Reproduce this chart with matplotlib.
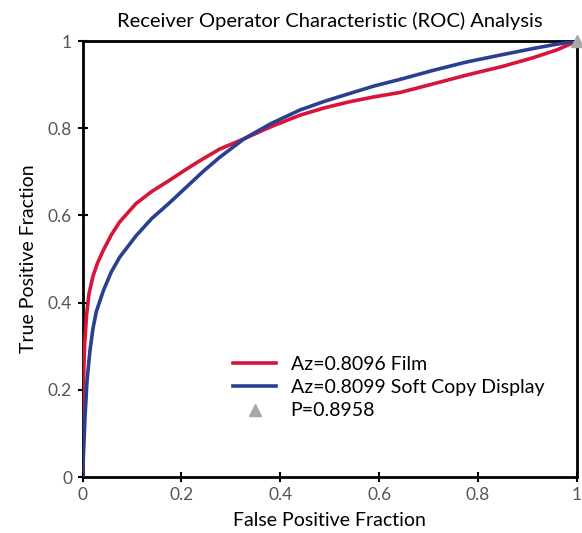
import matplotlib
matplotlib.use("Agg")
import matplotlib.pyplot as plt

plt.rcParams['font.family'] = ['Lato', 'DejaVu Sans']

# values
film_fpf = [0.0, 0.002, 0.004, 0.008, 0.013, 0.021, 0.03, 0.042, 0.058, 0.075,
            0.108, 0.14, 0.175, 0.21, 0.238, 0.277, 0.327, 0.38, 0.44, 0.49,
            0.541, 0.59, 0.642, 0.71, 0.777, 0.85, 0.912, 0.96, 1.0]
film_tpf = [0.0, 0.22, 0.30, 0.37, 0.42, 0.46, 0.49, 0.52, 0.555, 0.585,
            0.627, 0.655, 0.68, 0.706, 0.726, 0.752, 0.776, 0.803, 0.83, 0.847,
            0.861, 0.872, 0.882, 0.902, 0.922, 0.942, 0.962, 0.98, 1.0]

soft_fpf = [0.0, 0.005, 0.009, 0.015, 0.021, 0.028, 0.042, 0.058, 0.075, 0.108,
            0.14, 0.175, 0.21, 0.243, 0.277, 0.327, 0.38, 0.44, 0.49, 0.541,
            0.59, 0.642, 0.71, 0.777, 0.85, 0.912, 0.96, 1.0]
soft_tpf = [0.0, 0.137, 0.22, 0.29, 0.34, 0.38, 0.427, 0.47, 0.504, 0.553,
            0.593, 0.628, 0.665, 0.70, 0.733, 0.776, 0.81, 0.842, 0.862, 0.880,
            0.897, 0.912, 0.933, 0.952, 0.969, 0.983, 0.993, 1.0]

p_point = (1.0, 1.0)

ticks = [0, 0.2, 0.4, 0.6, 0.8, 1]
tick_labels = ["0", "0.2", "0.4", "0.6", "0.8", "1"]

fig = plt.figure(figsize=(5.82, 5.33), dpi=100)
ax = fig.add_axes([0.1418, 0.105, 0.8496, 0.818])

ax.plot(film_fpf, film_tpf, color="#d9143a", lw=2.6, label="Az=0.8096 Film",
        zorder=3, solid_joinstyle="round")
ax.plot(soft_fpf, soft_tpf, color="#2b3f92", lw=2.6, label="Az=0.8099 Soft Copy Display",
        zorder=4, solid_joinstyle="round")
ax.plot([p_point[0]], [p_point[1]], marker="^", ms=9, color="#a8a8a8", ls="none",
        label="P=0.8958", clip_on=False, zorder=5)

ax.set_xlim(0, 1)
ax.set_ylim(0, 1)
ax.set_xticks(ticks)
ax.set_xticklabels(tick_labels)
ax.set_yticks(ticks)
ax.set_yticklabels(tick_labels)
ax.tick_params(direction="inout", length=7, width=1.5, labelsize=12.5,
               labelcolor="#555555", pad=4)

for s in ax.spines.values():
    s.set_linewidth(2)
    s.set_color("black")

ax.set_xlabel("False Positive Fraction", fontsize=14, labelpad=6)
ax.set_ylabel("True Positive Fraction", fontsize=14, labelpad=8)
ax.set_title("Receiver Operator Characteristic (ROC) Analysis", fontsize=14.5, pad=10)

ax.legend(loc="lower left", bbox_to_anchor=(0.285, 0.11), frameon=False, fontsize=14,
          handlelength=2.2, handletextpad=0.75, labelspacing=0.32, borderpad=0)

fig.savefig("out.png", dpi=100)
